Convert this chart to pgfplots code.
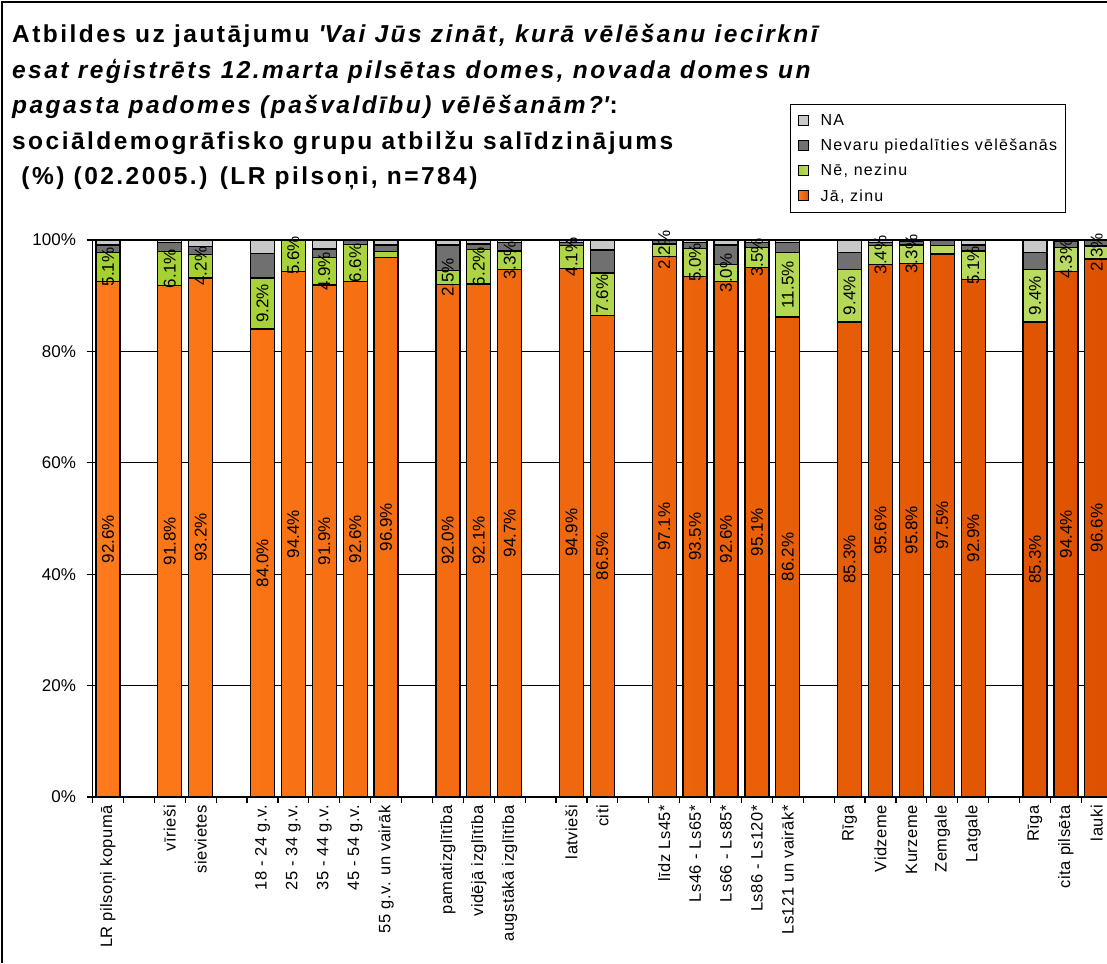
\documentclass[border=0pt]{standalone}
\usepackage{pgfplots}
\pgfplotsset{compat=1.18}
\usepackage{pgfplotstable}
\usepackage{fontspec}
\setmainfont{Liberation Sans}
\newfontfamily\wide[LetterSpace=8]{Liberation Sans}
\newfontfamily\widex[LetterSpace=3]{Liberation Sans}
\newfontfamily\widet[LetterSpace=10]{Liberation Sans}
\definecolor{orM}{HTML}{FF6600}
\definecolor{orD}{HTML}{DD5200}
\definecolor{orL}{HTML}{FF7A1A}
\definecolor{grM}{HTML}{E8F8A8}
\definecolor{grD}{HTML}{A4D030}
\definecolor{gyM}{HTML}{A0A0A0}
\definecolor{gyD}{HTML}{707070}
\definecolor{naM}{HTML}{FFFFFF}
\definecolor{naD}{HTML}{C8C8C8}

\pgfplotstableread{
x ja ne nev na
0 92.6 5.1 1.4 0.9
2 91.8 6.1 1.6 0.5
3 93.2 4.2 1.4 1.2
5 84.0 9.2 4.4 2.4
6 94.4 5.6 0.0 0.0
7 91.9 4.9 1.6 1.6
8 92.6 6.6 0.8 0.0
9 96.9 1.0 1.2 0.9
11 92.0 2.5 4.6 0.9
12 92.1 6.2 1.0 0.7
13 94.7 3.3 1.5 0.5
15 94.9 4.1 0.6 0.4
16 86.5 7.6 4.1 1.8
18 97.1 2.2 0.7 0.0
19 93.5 5.0 1.0 0.5
20 92.6 3.0 3.5 0.9
21 95.1 3.5 1.0 0.4
22 86.2 11.5 1.9 0.4
24 85.3 9.4 3.0 2.3
25 95.6 3.4 0.6 0.4
26 95.8 3.3 0.6 0.3
27 97.5 1.5 1.0 0.0
28 92.9 5.1 1.1 0.9
30 85.3 9.4 3.0 2.3
31 94.4 4.3 1.0 0.3
32 96.6 2.3 1.1 0.0
}\data

\pgfplotstableread{
x ja ne
0 92.6 5.1
2 91.8 6.1
3 93.2 4.2
5 84.0 9.2
6 94.4 5.6
7 91.9 4.9
8 92.6 6.6
11 92.0 2.5
12 92.1 6.2
13 94.7 3.3
15 94.9 4.1
16 86.5 7.6
18 97.1 2.2
19 93.5 5.0
20 92.6 3.0
21 95.1 3.5
22 86.2 11.5
24 85.3 9.4
25 95.6 3.4
26 95.8 3.3
28 92.9 5.1
30 85.3 9.4
31 94.4 4.3
32 96.6 2.3
}\nelab

\pgfplotsset{
  /pgf/number format/assume math mode=true,
  common/.style={
    at={(92.5pt,-797pt)}, anchor=south west, scale only axis,
    width=1014.5pt, height=557pt,
    xmin=-0.5, xmax=32.33, ymin=0, ymax=100,
  },
  barlab/.style={
    draw=none, no marks, point meta=explicit,
    nodes near coords={\pgfmathprintnumber[fixed,fixed zerofill,precision=1]{\pgfplotspointmeta}\%},
    every node near coord/.append style={rotate=90, anchor=center, inner sep=0pt,
      font=\fontsize{17}{17}\selectfont, text=black},
  },
}

\begin{document}
\begin{tikzpicture}
\clip (0pt,0pt) rectangle (1107pt,-963pt);
\draw[line width=1.5pt] (2pt,-963pt) -- (2pt,-2pt) -- (1107pt,-2pt);
\node[anchor=north west, align=left, inner sep=0pt,
  font=\widet\fontsize{24.5}{35.5}\selectfont\bfseries] at (12pt,-24.5pt)
{Atbildes uz jautājumu \textit{\textquotesingle Vai Jūs zināt, kurā vēlēšanu iecirknī}\\
\textit{esat reģistrēts 12.marta pilsētas domes, novada domes un}\\
\textit{pagasta padomes (pašvaldību) vēlēšanām?\textquotesingle}:\\
sociāldemogrāfisko grupu atbilžu salīdzinājums\\
\ (\%) (02.2005.) (LR pilsoņi, n=784)};

\begin{axis}[common,
  ybar stacked, bar width=24pt,
  axis x line*=bottom, axis y line*=left,
  axis line style={line width=1.5pt},
  ytick={0,20,...,100},
  yticklabel={\pgfmathprintnumber{\tick}\%},
  ymajorgrids, major grid style={black, line width=1.2pt},
  tick align=outside, major tick length=6pt,
  tick style={black, line width=1.2pt},
  y tick label style={font=\fontsize{17}{17}\selectfont, xshift=-7pt},
  xtick={-0.5,0.5,...,31.6}, xticklabels={},
  extra x ticks={0,2,3,5,6,7,8,9,11,12,13,15,16,18,19,20,21,22,24,25,26,27,28,30,31,32},
  extra x tick labels={LR pilsoņi kopumā, vīrieši, sievietes, 18 - 24 g.v., 25 - 34 g.v., 35 - 44 g.v., 45 - 54 g.v., 55 g.v. un vairāk, pamatizglītība, vidējā izglītība, augstākā izglītība, latvieši, citi, līdz Ls45*, Ls46 - Ls65*, Ls66 - Ls85*, Ls86 - Ls120*, Ls121 un vairāk*, Rīga, Vidzeme, Kurzeme, Zemgale, Latgale, Rīga, cita pilsēta, lauki},
  extra x tick style={major tick length=0pt, tick style={draw=none},
    tick label style={rotate=90, anchor=east, inner xsep=8pt, inner ysep=0pt,
      font=\widex\fontsize{16.5}{16.5}\selectfont}},
  legend style={at={(0.6875,1.244)}, anchor=north west, draw=black, line width=1.2pt,
    font=\wide\fontsize{16}{16}\selectfont, row sep=8pt, inner xsep=6pt, inner ysep=8pt,
    cells={anchor=west}},
  legend image code/.code={\draw[#1, draw=black, line width=1pt] (2pt,-5pt) rectangle (12pt,5pt);
    \path[draw=none, fill=none] (0pt,0pt) -- (22pt,0pt);},
  reverse legend,
  every axis plot/.append style={draw=black, line width=1.3pt},
]
\addplot[left color=orL, middle color=orM, right color=orD] table[x=x, y=ja] {\data};
\addlegendentry{Jā, zinu}
\addplot[left color=grD, middle color=grM, right color=grD!75!white] table[x=x, y=ne] {\data};
\addlegendentry{Nē, nezinu}
\addplot[left color=gyD, middle color=gyM, right color=gyD] table[x=x, y=nev] {\data};
\addlegendentry{Nevaru piedalīties vēlēšanās}
\addplot[left color=naD, middle color=naM, right color=naD] table[x=x, y=na] {\data};
\addlegendentry{NA}
\end{axis}

\begin{axis}[common, axis lines=none, clip=false, xtick=\empty, ytick=\empty]
\addplot[barlab] table[x=x, y expr=\thisrow{ja}/2, meta=ja] {\data};
\addplot[barlab] table[x=x, y expr=\thisrow{ja}+\thisrow{ne}/2, meta=ne] {\nelab};
\end{axis}
\end{tikzpicture}
\end{document}
